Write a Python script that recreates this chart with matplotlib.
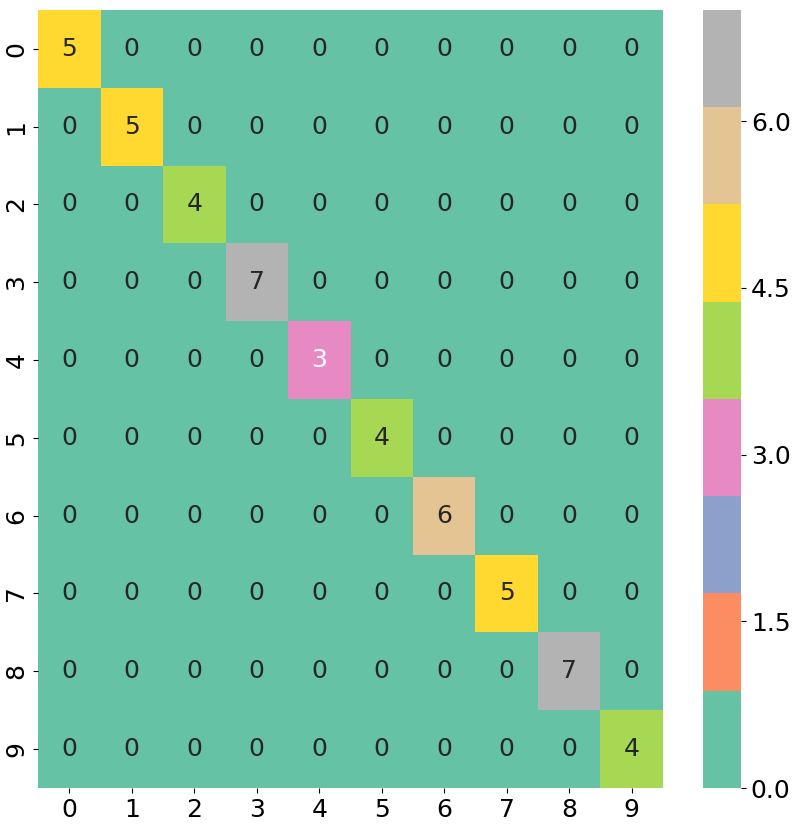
import numpy as np
import matplotlib
matplotlib.use("Agg")
import matplotlib.pyplot as plt
import seaborn as sns

labels = ["0", "1", "2", "3", "4", "5", "6", "7", "8", "9"]
diag_values = [5, 5, 4, 7, 3, 4, 6, 5, 7, 4]

cm = np.diag(diag_values)

fig = plt.figure(figsize=(7.93, 8.26), dpi=100)
ax = fig.add_axes([0.048, 0.046, 0.788, 0.942])
cax = fig.add_axes([0.8865, 0.046, 0.048, 0.942])

sns.heatmap(cm, annot=True, fmt="d", cmap="Set2", ax=ax, cbar_ax=cax,
            annot_kws={"size": 18}, xticklabels=labels, yticklabels=labels)
ax.tick_params(axis="both", labelsize=18)
for t in ax.get_yticklabels():
    t.set_rotation(90)
    t.set_va("center")
cax.tick_params(labelsize=18)
cax.set_yticks([0.0, 1.5, 3.0, 4.5, 6.0])
cax.set_yticklabels(["0.0", "1.5", "3.0", "4.5", "6.0"])

fig.savefig("out.png", dpi=100)
